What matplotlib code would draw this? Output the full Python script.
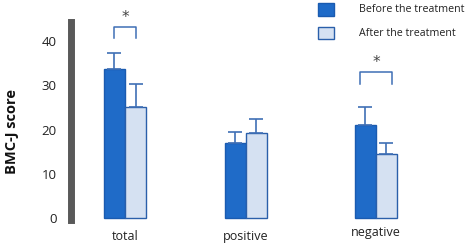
import matplotlib
matplotlib.use("Agg")
import matplotlib.pyplot as plt
from matplotlib.patches import Rectangle

categories = ["total", "positive", "negative"]
before_vals = [33.7, 16.9, 21.0]
before_err = [3.6, 2.5, 4.2]
after_vals = [25.2, 19.2, 14.4]
after_err = [5.0, 3.2, 2.5]
series_names = ["Before the treatment", "After the treatment"]
yticks = [0, 10, 20, 30, 40]
sig_groups = [0, 2]

group_pos = [0.0, 0.963, 2.0]
bw = 0.168
c_before = "#1F6BC8"
e_before = "#1A5BB0"
c_after = "#D5E1F2"
e_after = "#2A5FAA"
c_err = "#3F6FB5"

fig = plt.figure(figsize=(4.71, 2.46), dpi=100)
ax = fig.add_axes([70.5 / 471, 26 / 246, 1 - 70.5 / 471, 198 / 246])
ax.set_xlim(-0.435, 2.76)
ax.set_ylim(-0.45, 44.3)

xb = [g - bw / 2 for g in group_pos]
xa = [g + bw / 2 for g in group_pos]
ax.bar(xb, before_vals, bw, color=c_before, edgecolor=e_before, linewidth=1.0, zorder=2)
ax.bar(xa, after_vals, bw, color=c_after, edgecolor=e_after, linewidth=1.0, zorder=2)
ax.errorbar(xb, before_vals, yerr=[[0] * 3, before_err], fmt="none", ecolor=c_err,
            elinewidth=1.2, capsize=5, capthick=1.2, zorder=3)
ax.errorbar(xa, after_vals, yerr=[[0] * 3, after_err], fmt="none", ecolor=c_err,
            elinewidth=1.2, capsize=5, capthick=1.2, zorder=3)

# significance brackets
bracket_y = {0: 43.1, 2: 32.9}
for i in sig_groups:
    yb = bracket_y[i]
    x0 = xb[i] if i == 0 else xb[i] - 0.042
    x1 = xa[i] + (0.0 if i == 0 else 0.045)
    ax.plot([x0, x0, x1, x1], [yb - 2.5, yb, yb, yb - 2.5], color=c_err, lw=1.1,
            zorder=3, clip_on=False)
    ax.text((x0 + x1) / 2 + 0.005, yb + 2.3, "*", ha="center", va="center", fontsize=11,
            color="#444444", family="DejaVu Sans", clip_on=False)

for s in ["top", "right", "bottom"]:
    ax.spines[s].set_visible(False)
ax.spines["left"].set_linewidth(5)
ax.spines["left"].set_color("#595959")
ax.set_yticks(yticks)
ax.set_yticklabels([str(t) for t in yticks], fontsize=9.5, family="Open Sans", color="#222222")
ax.tick_params(axis="y", length=0, pad=10)
ax.set_xticks(group_pos)
ax.set_xticklabels(categories, fontsize=9, family="Open Sans", color="#222222")
ax.tick_params(axis="x", length=0, pad=7)
ax.get_xticklabels()[2].set_y(0.02)

fig.text(12 / 471, 1 - 131 / 246, "BMC-J score", rotation=90, ha="center", va="center",
         fontsize=10.5, fontweight="bold", family="Open Sans", color="#111111")

# legend
for k, (name, fc, ec) in enumerate(zip(series_names, [c_before, c_after], [e_before, e_after])):
    y0 = 3.3 + k * 23.4
    fig.patches.append(Rectangle((318 / 471, 1 - (y0 + 12.4) / 246), 16 / 471, 12.4 / 246,
                                 transform=fig.transFigure, facecolor=fc, edgecolor=ec, lw=1.0))
    fig.text(359 / 471, 1 - (y0 + 6.6) / 246, name, ha="left", va="center",
             fontsize=7.7, family="Open Sans", color="#222222")

fig.savefig("out.png", dpi=100)
